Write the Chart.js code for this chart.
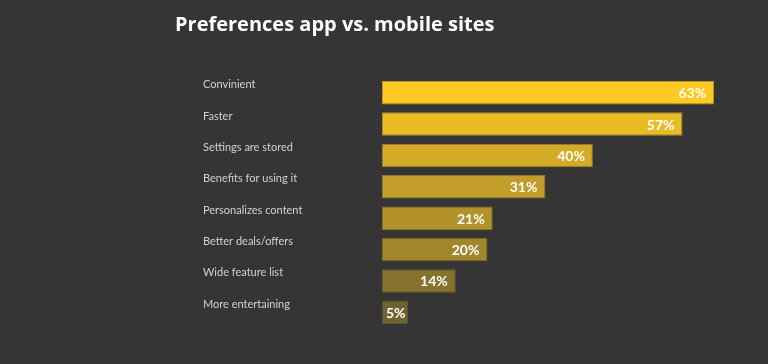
<!DOCTYPE html>
<html>
<head>
<meta charset="utf-8">
<script src="https://cdn.jsdelivr.net/npm/chart.js@4/dist/chart.umd.min.js"></script>
<style>
  html, body { margin: 0; padding: 0; background: #353535; }
  #wrap { width: 768px; height: 364px; position: relative; }
</style>
</head>
<body>
<div id="wrap"><canvas id="c"></canvas></div>
<script>
const titleText = 'Preferences app vs. mobile sites';
const categories = ['Convinient', 'Faster', 'Settings are stored', 'Benefits for using it', 'Personalizes content', 'Better deals/offers', 'Wide feature list', 'More entertaining'];
const values = [63, 57, 40, 31, 21, 20, 14, 5];
const barColors = ['#FDCA22', '#E9BC25', '#D4AA26', '#C29D2A', '#B3922B', '#A1862B', '#85732D', '#6F6330'];
const borderColors = ['#B8962A', '#A88B2C', '#998030', '#8E7A30', '#857230', '#7A6A30', '#665C30', '#5A5330'];
const axisMax = 70;

const valueLabels = {
  id: 'valueLabels',
  afterDatasetsDraw(chart) {
    const ctx = chart.ctx;
    const meta = chart.getDatasetMeta(0);
    ctx.save();
    ctx.font = 'bold 14px Lato, "Open Sans", sans-serif';
    ctx.fillStyle = '#ffffff';
    ctx.textAlign = 'right';
    ctx.textBaseline = 'middle';
    meta.data.forEach((bar, i) => {
      const txt = values[i] + '%';
      const w = ctx.measureText(txt).width;
      const xr = Math.max(bar.x - 8, bar.base + 4 + w);
      ctx.fillText(txt, xr, bar.y + 1);
    });
    ctx.restore();
  }
};

new Chart(document.getElementById('c'), {
  type: 'bar',
  data: {
    labels: categories,
    datasets: [{
      data: values,
      backgroundColor: barColors,
      borderColor: borderColors,
      borderWidth: 1,
      borderSkipped: false,
      barPercentage: 0.75,
      categoryPercentage: 1.0
    }]
  },
  options: {
    indexAxis: 'y',
    responsive: true,
    maintainAspectRatio: false,
    animation: false,
    layout: { padding: { left: 175, right: 17, top: 0, bottom: 36 } },
    plugins: {
      legend: { display: false },
      tooltip: { enabled: false },
      title: {
        display: true,
        text: titleText,
        align: 'start',
        color: '#ffffff',
        font: { family: '"Open Sans", sans-serif', size: 20, weight: 'bold' },
        padding: { top: 13, bottom: 40 }
      }
    },
    scales: {
      x: {
        display: false,
        min: 0,
        max: axisMax
      },
      y: {
        weight: 0,
        grid: { display: false },
        border: { display: false },
        ticks: {
          color: '#d2d2d2',
          crossAlign: 'far',
          labelOffset: -8,
          padding: 0,
          font: { family: 'Lato, sans-serif', size: 11 }
        },
        afterFit(s) { s.width = 179; }
      },
      yPad: {
        type: 'category',
        position: 'left',
        weight: 5,
        labels: categories,
        grid: { display: false },
        border: { display: false },
        ticks: { display: false },
        afterFit(s) { s.width = 28; }
      }
    }
  },
  plugins: [valueLabels]
});
</script>
</body>
</html>
